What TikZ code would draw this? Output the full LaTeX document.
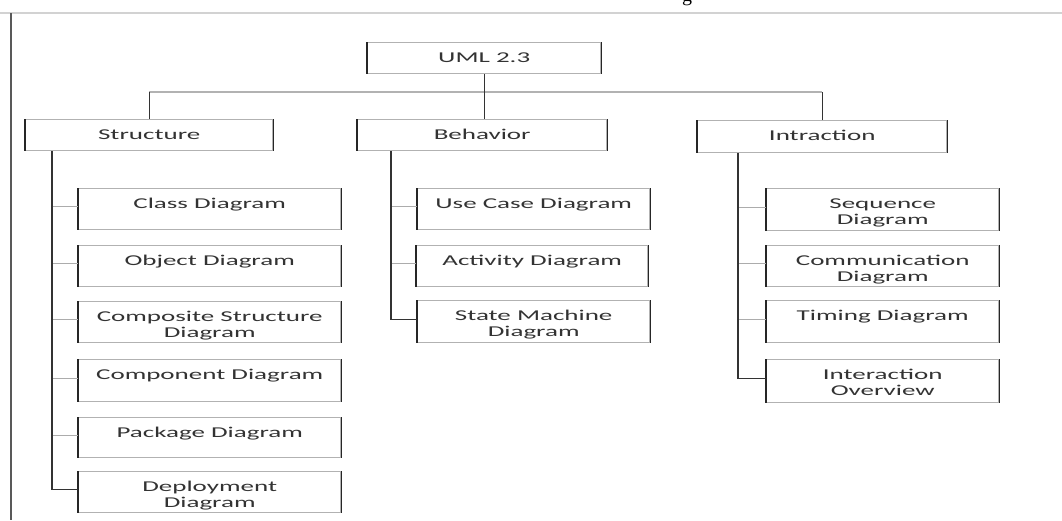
\documentclass[tikz,border=0pt]{standalone}
\usepackage{fontspec}
\newfontfamily\boxfont[FakeStretch=1.8]{Carlito}
\newfontfamily\capfont{Liberation Serif}
\newcommand\bxt[3]{\parbox[c][#2][t]{#1}{\centering\rule{0pt}{19.5pt}#3}}
\tikzset{
  bx/.style={draw=gray!60, line width=1.4pt, inner sep=0pt, anchor=north west,
    font=\boxfont\fontsize{15}{16.5}\selectfont, text=black!80,
    append after command={(\tikzlastnode.north west) edge[draw=black!85, line width=1.6pt] (\tikzlastnode.south west)
      (\tikzlastnode.north east) edge[draw=black!85, line width=1.6pt] (\tikzlastnode.south east)}},
  trunk/.style={draw=black!80, line width=1.4pt},
  stub/.style={draw=gray!65, line width=1.4pt},
  bus/.style={draw=gray!60, line width=1.4pt},
}
\begin{document}
\begin{tikzpicture}[x=1pt,y=-1pt]
\useasboundingbox (0,0) rectangle (1062,520);
\fill[white] (0,0) rectangle (1062,520);
% frame
\draw[gray!35, line width=2pt] (0,13) -- (1062,13);
\draw[gray!70!black, line width=1.8pt] (11,13) -- (11,520);
\node[font=\capfont\fontsize{20}{20}\selectfont, anchor=base, inner sep=0pt] (cap) at (687,1) {g};

% top
\node[bx] (uml) at (367,42) {\bxt{233pt}{31pt}{UML 2.3}};
\node[bx] (structure) at (25,119) {\bxt{247pt}{31pt}{Structure}};
\node[bx] (behavior) at (357,119) {\bxt{249pt}{31pt}{Behavior}};
\node[bx] (intraction) at (697,120) {\bxt{249pt}{32pt}{Intraction}};

% structure children
\node[bx] (class) at (78,188) {\bxt{262pt}{41pt}{Class Diagram}};
\node[bx] (object) at (78,245) {\bxt{262pt}{41pt}{Object Diagram}};
\node[bx] (composite) at (78,301) {\bxt{262pt}{41pt}{Composite Structure\\Diagram}};
\node[bx] (component) at (78,359) {\bxt{262pt}{42pt}{Component Diagram}};
\node[bx] (package) at (78,417) {\bxt{262pt}{40pt}{Package Diagram}};
\node[bx] (deploy) at (78,471) {\bxt{262pt}{41pt}{Deployment\\Diagram}};

% behavior children
\node[bx] (usecase) at (417,188) {\bxt{232pt}{41pt}{Use Case Diagram}};
\node[bx] (activity) at (416,245) {\bxt{231pt}{41pt}{Activity Diagram}};
\node[bx] (state) at (417,300) {\bxt{232pt}{42pt}{State Machine\\Diagram}};

% interaction children
\node[bx] (sequence) at (766,188) {\bxt{232pt}{42pt}{Sequence\\Diagram}};
\node[bx] (communication) at (766,245) {\bxt{232pt}{41pt}{Communication\\Diagram}};
\node[bx] (timing) at (766,300) {\bxt{232pt}{42pt}{Timing Diagram}};
\node[bx] (overview) at (766,359) {\bxt{232pt}{43pt}{Interaction\\Overview}};

% bus
\coordinate (bus) at (uml.south |- 0,92);
\draw[bus] (structure.north |- bus) -- (intraction.north |- bus);
\draw[trunk] (uml.south) -- (uml.south |- behavior.north);
\draw[trunk] (structure.north |- bus) -- (structure.north);
\draw[trunk] (intraction.north |- bus) -- (intraction.north);

% trunks
\coordinate (st) at ([xshift=27pt]structure.south west);
\coordinate (bt) at ([xshift=34pt]behavior.south west);
\coordinate (it) at ([xshift=41pt]intraction.south west);

\foreach \n in {class,object,composite,component,package}
  \draw[stub] ([yshift=2.5pt]\n.west) -- ([yshift=2.5pt]\n.west -| st);
\foreach \n in {usecase,activity}
  \draw[stub] ([yshift=2.5pt]\n.west) -- ([yshift=2.5pt]\n.west -| bt);
\foreach \n in {sequence,communication,timing}
  \draw[stub] ([yshift=2.5pt]\n.west) -- ([yshift=2.5pt]\n.west -| it);

\draw[trunk] (st) |- ([yshift=2.5pt]deploy.west);
\draw[trunk] (bt) |- ([yshift=2.5pt]state.west);
\draw[trunk] (it) |- ([yshift=2.5pt]overview.west);
\end{tikzpicture}
\end{document}
